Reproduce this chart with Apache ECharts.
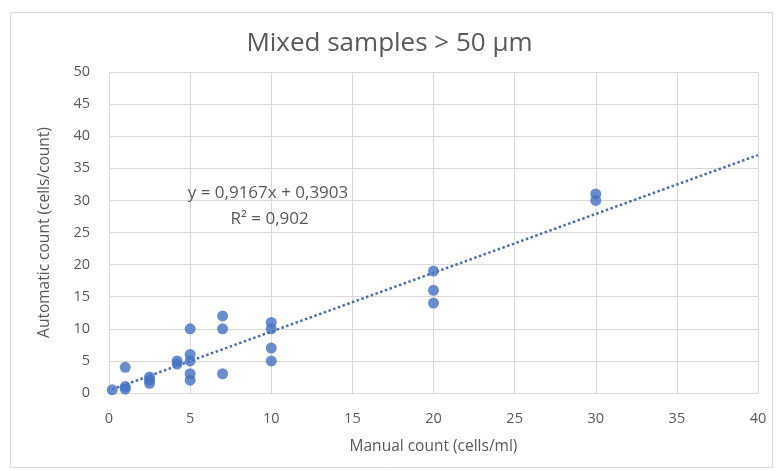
<!DOCTYPE html>
<html>
<head>
<meta charset="utf-8">
<script src="https://cdn.jsdelivr.net/npm/echarts@6/dist/echarts.min.js"></script>
<style>
html,body{margin:0;padding:0;background:#fff;}
#chart{width:779px;height:471px;}
</style>
</head>
<body>
<div id="chart"></div>
<script>
// Data
var manualX   = [0.2, 1, 1, 1, 2.5, 2.5, 2.5, 4.2, 4.2, 5, 5, 5, 5, 5, 7, 7, 7, 10, 10, 10, 10, 20, 20, 20, 30, 30];
var automaticY= [0.5, 0.6, 1, 4, 1.5, 2, 2.5, 4.5, 5, 2, 3, 5, 6, 10, 3, 10, 12, 5, 7, 10, 11, 14, 16, 19, 30, 31];
var trendX = [0.2, 40];
var trendY = [0.57, 37.06];
var xTicks = [0, 5, 10, 15, 20, 25, 30, 35, 40];
var yTicks = [0, 5, 10, 15, 20, 25, 30, 35, 40, 45, 50];
var titleText = 'Mixed samples > 50 µm';
var xName = 'Manual count (cells/ml)';
var yName = 'Automatic count (cells/count)';
var eqLine1 = 'y = 0,9167x + 0,3903';
var eqLine2 = 'R² = 0,902';

var pts = manualX.map(function(x, i){ return [x, automaticY[i]]; });
var trend = trendX.map(function(x, i){ return [x, trendY[i]]; });

var font = '"Open Sans", "Noto Sans", sans-serif';
var chart = echarts.init(document.getElementById('chart'), null, {renderer:'canvas'});
chart.setOption({
  animation: false,
  backgroundColor: '#fff',
  textStyle: {fontFamily: font},
  title: {
    text: titleText, left: 'center', top: 26,
    textStyle: {fontFamily: font, fontSize: 26, fontWeight: 'normal', color: '#595959'}
  },
  grid: {left: 109, right: 21, top: 72, bottom: 78, containLabel: false},
  xAxis: {
    type: 'value', min: xTicks[0], max: xTicks[xTicks.length-1], interval: 5,
    name: xName, nameLocation: 'middle', nameGap: 46,
    nameTextStyle: {fontFamily: font, fontSize: 15.5, color: '#595959'},
    axisLine: {show: true, lineStyle: {color: '#d9d9d9'}},
    axisTick: {show: false},
    axisLabel: {fontFamily: font, fontSize: 14.5, color: '#595959', margin: 18},
    splitLine: {show: true, lineStyle: {color: '#d9d9d9', width: 1}}
  },
  yAxis: {
    type: 'value', min: yTicks[0], max: yTicks[yTicks.length-1], interval: 5,
    name: yName, nameLocation: 'middle', nameGap: 56, nameRotate: 90,
    nameTextStyle: {fontFamily: font, fontSize: 15.5, color: '#595959'},
    axisLine: {show: false},
    axisTick: {show: false},
    axisLabel: {fontFamily: font, fontSize: 14.5, color: '#595959', margin: 19},
    splitLine: {show: true, lineStyle: {color: '#d9d9d9', width: 1}}
  },
  graphic: [
    {type: 'rect', left: 8, top: 10, shape: {width: 762, height: 455},
     style: {fill: 'none', stroke: '#d9d9d9', lineWidth: 1}, silent: true, z: -1}
  ],
  series: [
    {
      type: 'line', data: trend, showSymbol: false, symbol: 'none',
      lineStyle: {color: '#4a6ea8', width: 2.5, type: [2.5, 2.5]}, z: 2,
      markPoint: {
        symbol: 'rect', symbolSize: 0,
        data: [
          {coord: [9.8, 31.1], label: {show: true, formatter: eqLine1, fontFamily: font, fontSize: 17, color: '#595959'}},
          {coord: [9.9, 27.1], label: {show: true, formatter: eqLine2, fontFamily: font, fontSize: 17, color: '#595959'}}
        ]
      }
    },
    {
      type: 'scatter', data: pts, symbol: 'circle', symbolSize: 11,
      itemStyle: {color: '#4472c4'}, z: 3
    }
  ]
});
</script>
</body>
</html>
